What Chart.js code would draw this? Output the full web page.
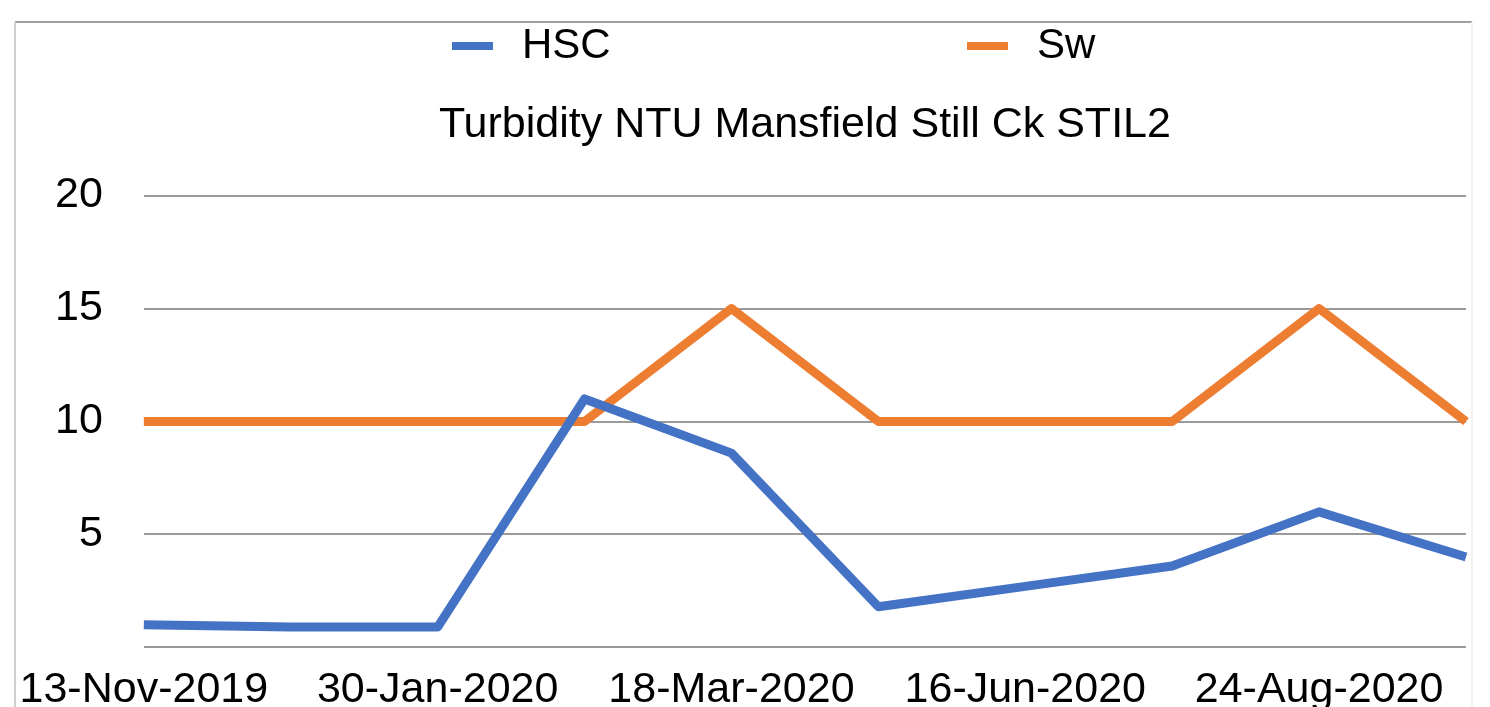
<!DOCTYPE html>
<html>
<head>
<meta charset="utf-8">
<script src="https://cdn.jsdelivr.net/npm/chart.js@4"></script>
<style>
  html, body { margin: 0; padding: 0; background: #fff; overflow: hidden; }
  #wrap { position: relative; width: 1490px; height: 733px; }
</style>
</head>
<body>
<div id="wrap"><canvas id="turbidity"></canvas></div>
<script>
// sample dates (only every second one is labelled on the axis)
const dates = ['13-Nov-2019', '', '30-Jan-2020', '', '18-Mar-2020', '', '16-Jun-2020', '', '24-Aug-2020', ''];
const hscValues = [1.0, 0.9, 0.9, 11.0, 8.6, 1.8, 2.7, 3.6, 6.0, 4.0];
const swValues = [10, 10, 10, 10, 15, 10, 10, 10, 15, 10];
const yTicks = [5, 10, 15, 20];

const FONT = '"Liberation Sans", Arial, Helvetica, sans-serif';

// thin frame around the chart, top and sides only
const framePlugin = {
  id: 'frame',
  beforeDraw(chart) {
    const ctx = chart.ctx;
    ctx.save();
    ctx.lineWidth = 2;
    ctx.strokeStyle = '#a0a0a0';
    ctx.beginPath();
    ctx.moveTo(15, 22);
    ctx.lineTo(1472, 22);
    ctx.stroke();
    ctx.strokeStyle = '#cfcfcf';
    ctx.beginPath();
    ctx.moveTo(15, 22);
    ctx.lineTo(15, chart.height);
    ctx.stroke();
    ctx.strokeStyle = '#f2f2f2';
    ctx.beginPath();
    ctx.moveTo(1472, 22);
    ctx.lineTo(1472, chart.height);
    ctx.stroke();
    ctx.restore();
  }
};

// legend drawn as short line swatches with wide spacing between items
const wideLegend = {
  id: 'wideLegend',
  afterDraw(chart, args, opts) {
    const ctx = chart.ctx;
    ctx.save();
    ctx.font = '42px ' + FONT;
    ctx.textBaseline = 'middle';
    chart.data.datasets.forEach((ds, i) => {
      const x = opts.xs[i];
      ctx.fillStyle = ds.borderColor;
      ctx.fillRect(x, opts.y - 4, 41, 8);
      ctx.fillStyle = '#000';
      ctx.fillText(ds.label, x + 70, opts.y);
    });
    ctx.restore();
  }
};

new Chart(document.getElementById('turbidity'), {
  type: 'line',
  data: {
    labels: dates,
    datasets: [
      {
        label: 'HSC',
        data: hscValues,
        borderColor: '#4472c4',
        backgroundColor: '#4472c4',
        borderWidth: 9,
        pointRadius: 0,
        borderJoinStyle: 'round',
        clip: false,
      },
      {
        label: 'Sw',
        data: swValues,
        borderColor: '#ed7d31',
        backgroundColor: '#ed7d31',
        borderWidth: 9,
        pointRadius: 0,
        borderJoinStyle: 'round',
        clip: false,
      },
    ],
  },
  options: {
    responsive: true,
    maintainAspectRatio: false,
    animation: false,
    layout: { padding: { left: 14, right: 24, top: 0, bottom: 0 } },
    plugins: {
      legend: { display: false },
      tooltip: { enabled: false },
      title: {
        display: true,
        fullSize: false,
        text: 'Turbidity NTU Mansfield Still Ck STIL2',
        color: '#000',
        font: { family: FONT, size: 43, weight: 'normal' },
        padding: { top: 99, bottom: 45 },
      },
      wideLegend: { xs: [452, 967], y: 46 },
    },
    scales: {
      x: {
        grid: { display: false, drawTicks: false },
        border: { display: false },
        ticks: {
          autoSkip: false,
          maxRotation: 0,
          padding: 17,
          color: '#000',
          font: { family: FONT, size: 43 },
        },
      },
      y: {
        min: 0,
        max: 20,
        grid: { color: '#9a9a9a', lineWidth: 2, drawTicks: false },
        border: { display: false },
        afterBuildTicks(scale) {
          scale.ticks = [0].concat(yTicks).map(v => ({ value: v }));
        },
        ticks: {
          padding: 41,
          color: '#000',
          font: { family: FONT, size: 43 },
          callback: v => (yTicks.includes(v) ? v : ''),
        },
      },
    },
  },
  plugins: [framePlugin, wideLegend],
});
</script>
</body>
</html>
